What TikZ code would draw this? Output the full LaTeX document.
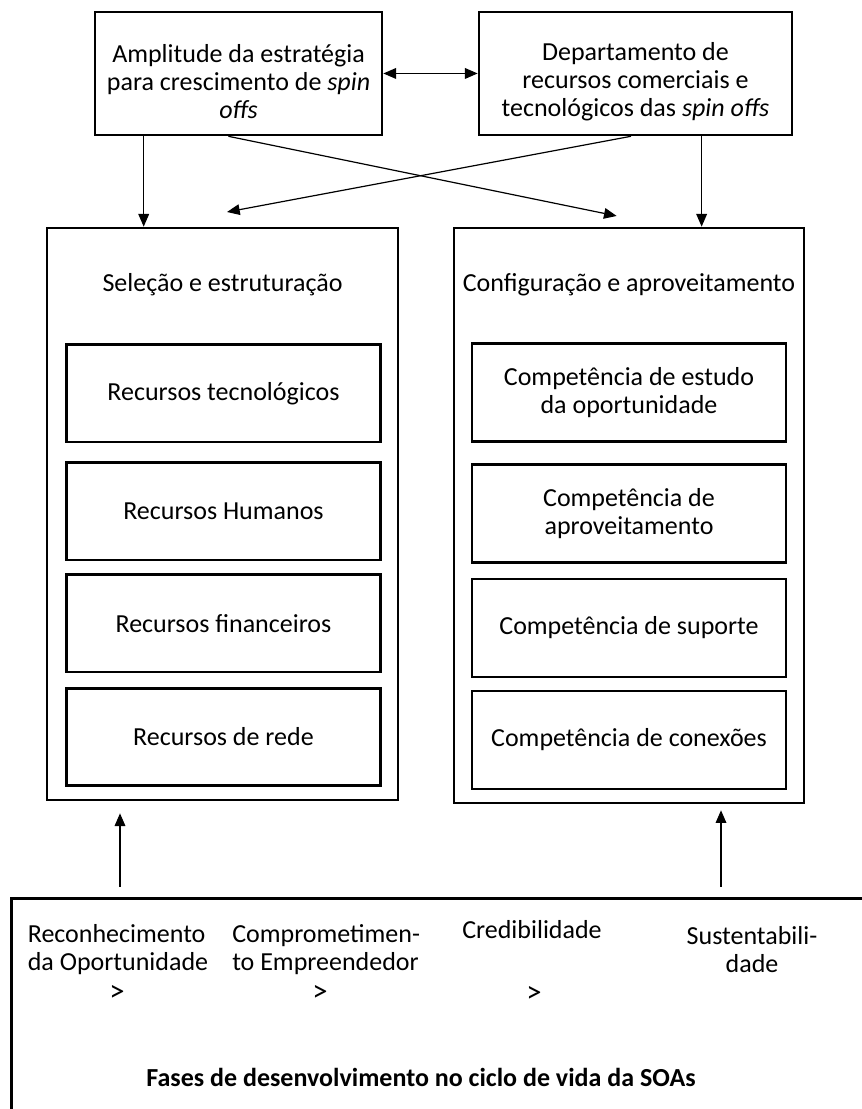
\documentclass[tikz,border=0pt]{standalone}
\usepackage{fontspec}
\setmainfont{Carlito}
\usetikzlibrary{arrows.meta}
\tikzset{
  bx/.style={draw=black,line width=2pt,inner sep=0pt,align=center},
  ib/.style={bx,minimum width=235.5pt,minimum height=73pt},
  tx/.style={inner sep=0pt,align=center},
  gt/.style={inner sep=0pt,font=\fontsize{23}{23}\selectfont},
  arr/.style={-{Triangle[length=9.5pt,width=8pt]},line width=.9pt},
  darr/.style={{Triangle[length=9.5pt,width=8pt]}-{Triangle[length=9.5pt,width=8pt]},line width=.9pt},
}

\begin{document}
\begin{tikzpicture}[x=1pt,y=-1pt,font=\fontsize{19.5}{21}\selectfont]
\useasboundingbox (0,0) rectangle (646.5,831.75);
% --- top: the two sources
\node[bx,minimum width=215.25pt,minimum height=92.25pt] (amp) at (178.9,55.1) {};
\node[bx,minimum width=234.75pt,minimum height=92.25pt] (dep) at (476.6,55.1) {};
\node[tx] (ampT) at (178.9,61)
  {Amplitude da estratégia\\para crescimento de \textit{spin}\\\textit{offs}};
\node[tx] (depT) at (476.6,61)
  {Departamento de\\recursos comerciais e\\tecnológicos das \textit{spin offs}};
\draw[darr] (amp.east) -- (dep.west);
% --- the two columns
\node[bx,minimum width=263.25pt,minimum height=429pt] (sel) at (166.9,385.5) {};
\node[bx,minimum width=262.5pt,minimum height=431.25pt] (cfg) at (471.75,386.6) {};
\node[tx] (selT) at (166.9,213.75) {Seleção e estruturação};
\node[tx] (cfgT) at (471.75,213.75) {Configuração e aproveitamento};
\foreach \y/\lab [count=\i] in {295.1/{Recursos tecnológicos},
                                383.6/{Recursos Humanos},
                                467.6/{Recursos financeiros},
                                552.75/{Recursos de rede}}{
  \node[ib] (rec\i) at (167.6,\y) {\lab};
}
\foreach \y/\lab [count=\i] in {294.4/{Competência de estudo\\da oportunidade},
                                385.1/{Competência de\\aproveitamento},
                                471/{Competência de suporte},
                                555/{Competência de conexões}}{
  \node[ib,minimum height=73.5pt] (cmp\i) at (471.75,\y) {\lab};
}
% --- arrows from the sources down into the columns
\coordinate (aL) at ([xshift=37.5pt]amp.south west);
\coordinate (aR) at ([xshift=168pt]dep.south west);
\draw[arr] (aL) -- (aL |- sel.north);
\draw[arr] (aR) -- (aR |- cfg.north);
\coordinate (xA) at ([xshift=101pt]amp.south west);
\coordinate (xAe) at ([xshift=123pt,yshift=8pt]cfg.north west);
\coordinate (xB) at ([xshift=115pt]dep.south west);
\coordinate (xBe) at ([xshift=136pt,yshift=11pt]sel.north west);
\draw[arr] (xA) -- (xAe);
\draw[arr] (xB) -- (xBe);
% --- bottom: the phases
\node[bx,anchor=north west,minimum width=700pt,minimum height=200pt] (fase) at (7.5,672.75) {};
\node[tx,align=left] (ph1) at (88.5,712.25) {Reconhecimento\\da Oportunidade};
\node[tx,align=left,anchor=west] (ph2) at (174,712.25) {Comprometimen-\\to Empreendedor};
\node[tx] (ph3) at (399,697.5) {Credibilidade};
\node[tx] (ph4) at (564,712) {Sustentabili-\\dade};
\node[gt] (gt1) at (87.75,745) {>};
\node[gt] (gt2) at (240,745) {>};
\node[gt] (gt3) at (400.5,746) {>};
\node[tx,font=\fontsize{19.5}{21}\selectfont\bfseries] (faseT) at (315.75,807.75)
  {Fases de desenvolvimento no ciclo de vida da SOAs};
\coordinate (upL) at (90,665);
\coordinate (upR) at (540.75,665);
\draw[arr,shorten >=9pt] (upL) -- (upL |- sel.south);
\draw[arr,shorten >=4.5pt] (upR) -- (upR |- cfg.south);
\end{tikzpicture}
\end{document}
